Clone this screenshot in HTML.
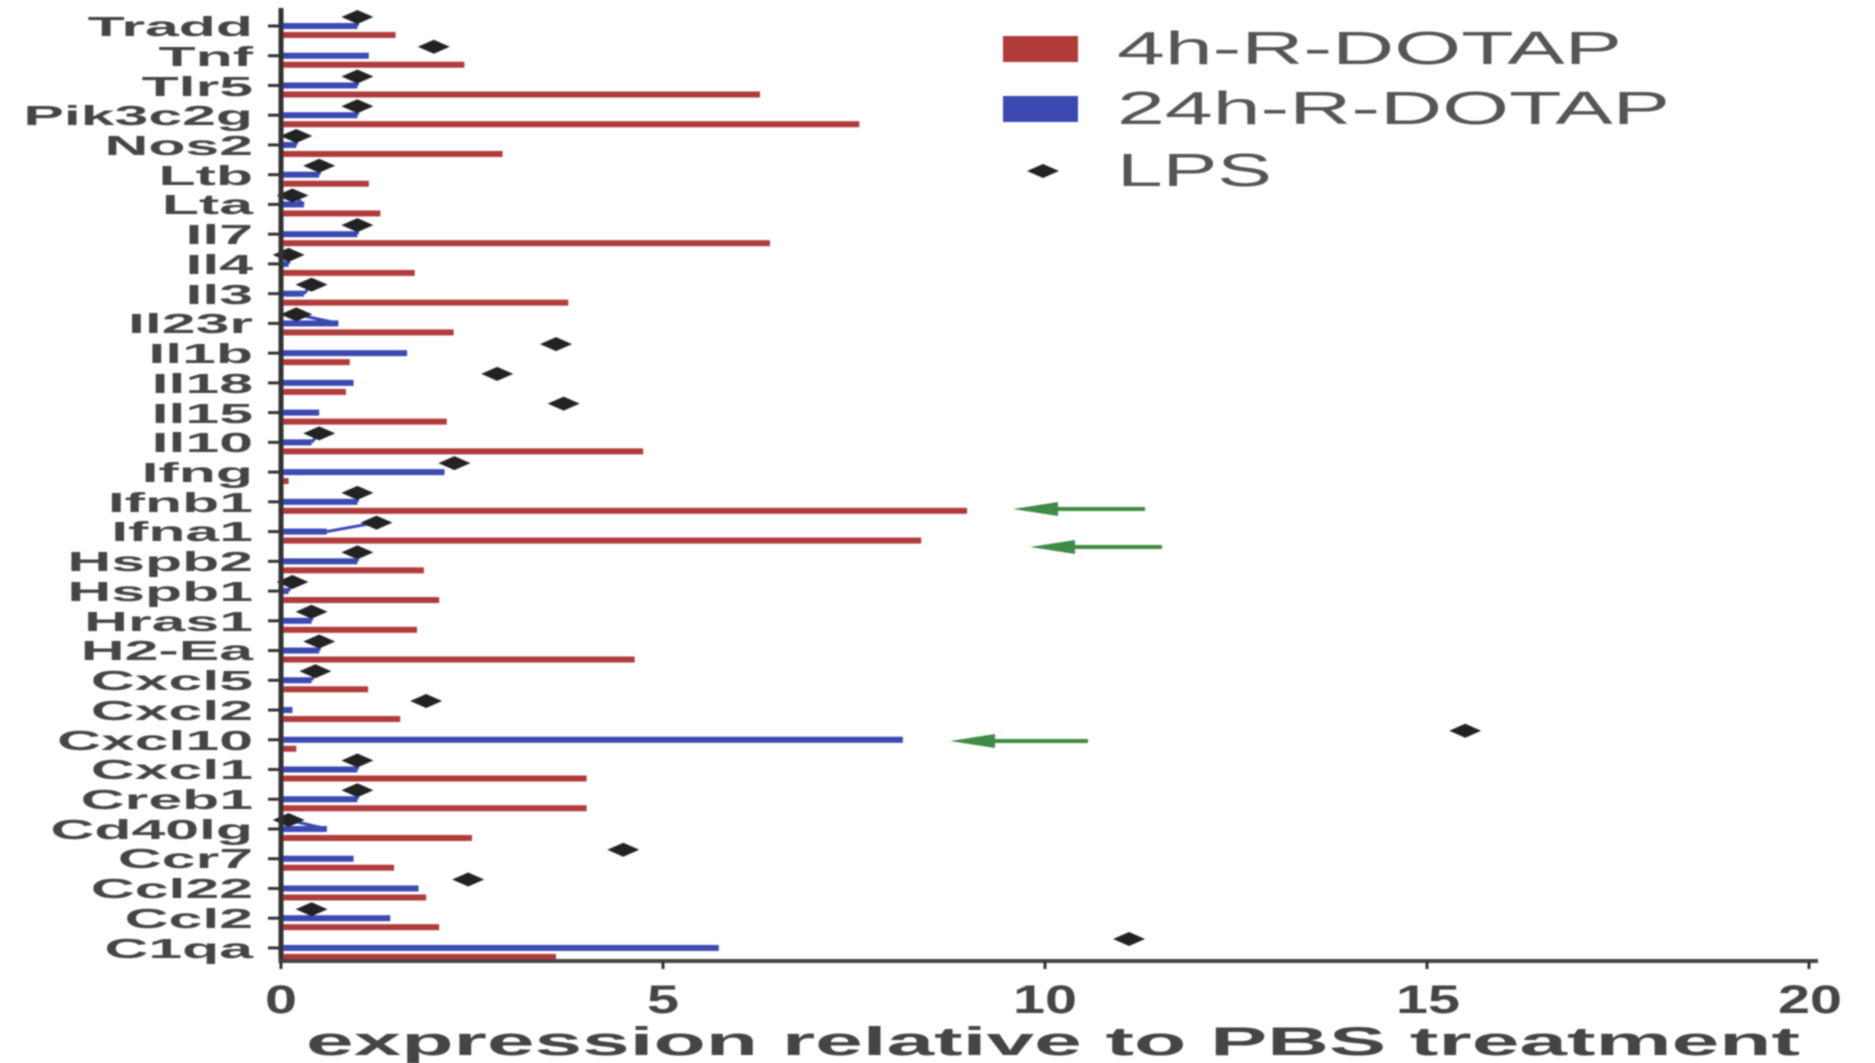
<!DOCTYPE html>
<html><head><meta charset="utf-8"><style>
html,body{margin:0;padding:0;background:#fff;}
svg{display:block;}
</style></head><body>
<svg id="s" width="1875" height="1063" viewBox="0 0 1875 1063" xmlns="http://www.w3.org/2000/svg">
<defs><filter id="bl"><feGaussianBlur stdDeviation="0.8"/></filter></defs>
<g filter="url(#bl)">
<g id="bars"></g>
<line x1="281" y1="8" x2="281" y2="963" stroke="#333" stroke-width="5"/>
<line x1="279" y1="961" x2="1818" y2="961" stroke="#444" stroke-width="4"/>
<g id="ticks" stroke="#333" stroke-width="3"></g>
<g font-family="Liberation Sans, sans-serif" font-weight="bold" font-size="28" fill="#444" transform="translate(253,0) scale(2.17,1)" text-anchor="end">
<text x="0" y="36">Tradd</text>
<text x="0" y="66">Tnf</text>
<text x="0" y="96">Tlr5</text>
<text x="0" y="125">Pik3c2g</text>
<text x="0" y="155">Nos2</text>
<text x="0" y="185">Ltb</text>
<text x="0" y="214">Lta</text>
<text x="0" y="244">Il7</text>
<text x="0" y="274">Il4</text>
<text x="0" y="304">Il3</text>
<text x="0" y="333">Il23r</text>
<text x="0" y="363">Il1b</text>
<text x="0" y="393">Il18</text>
<text x="0" y="423">Il15</text>
<text x="0" y="452">Il10</text>
<text x="0" y="482">Ifng</text>
<text x="0" y="512">Ifnb1</text>
<text x="0" y="541">Ifna1</text>
<text x="0" y="571">Hspb2</text>
<text x="0" y="601">Hspb1</text>
<text x="0" y="631">Hras1</text>
<text x="0" y="660">H2-Ea</text>
<text x="0" y="690">Cxcl5</text>
<text x="0" y="720">Cxcl2</text>
<text x="0" y="750">Cxcl10</text>
<text x="0" y="779">Cxcl1</text>
<text x="0" y="809">Creb1</text>
<text x="0" y="839">Cd40lg</text>
<text x="0" y="868">Ccr7</text>
<text x="0" y="898">Ccl22</text>
<text x="0" y="928">Ccl2</text>
<text x="0" y="958">C1qa</text>
</g>
<g font-family="Liberation Sans, sans-serif" font-weight="bold" font-size="40" fill="#444" text-anchor="middle">
<text x="281" y="1013" textLength="32" lengthAdjust="spacingAndGlyphs">0</text>
<text x="663" y="1013" textLength="32" lengthAdjust="spacingAndGlyphs">5</text>
<text x="1045" y="1013" textLength="64" lengthAdjust="spacingAndGlyphs">10</text>
<text x="1428" y="1013" textLength="64" lengthAdjust="spacingAndGlyphs">15</text>
<text x="1810" y="1013" textLength="64" lengthAdjust="spacingAndGlyphs">20</text>
<text x="1053" y="1055" textLength="1494" lengthAdjust="spacingAndGlyphs">expression relative to PBS treatment</text>
</g>
<rect x="1003" y="36" width="75" height="26" fill="#b03a3a"/>
<rect x="1003" y="96" width="75" height="26" fill="#3a48b0"/>
<polygon points="1027,171 1043,164 1059,171 1043,178" fill="#222"/>
<g font-family="Liberation Sans, sans-serif" font-size="46" fill="#555">
<text x="1117" y="64" textLength="505" lengthAdjust="spacingAndGlyphs">4h-R-DOTAP</text>
<text x="1117" y="124" textLength="553" lengthAdjust="spacingAndGlyphs">24h-R-DOTAP</text>
<text x="1117" y="186" textLength="155" lengthAdjust="spacingAndGlyphs">LPS</text>
</g>
<g id="arrows" fill="#3f8a45" stroke="#3f8a45"></g>
</g>
</svg>
<script>
var d=[[1,1.5,1],[1.15,2.4,2],[1,6.27,1],[1,7.57,1],[0.2,2.9,0.2],[0.5,1.15,0.5],[0.3,1.3,0.15],[1,6.4,1],[0.1,1.75,0.1],[0.3,3.76,0.4],[0.75,2.26,0.2],[1.65,0.9,3.6],[0.95,0.85,2.83],[0.5,2.17,3.7],[0.4,4.74,0.5],[2.14,0.1,2.27],[1,8.98,1],[0.6,8.38,1.25],[1,1.87,1],[0.1,2.07,0.15],[0.4,1.78,0.4],[0.5,4.63,0.5],[0.4,1.14,0.45],[0.15,1.56,1.9],[8.14,0.2,15.5],[1,4,1],[1,4,1],[0.6,2.5,0.1],[0.95,1.48,4.48],[1.8,1.9,2.45],[1.43,2.07,0.4],[5.73,3.6,11.1]];
var NS="http://www.w3.org/2000/svg",g=document.getElementById('bars'),t=document.getElementById('ticks');
function el(p,tag,a){var e=document.createElementNS(NS,tag);for(var k in a)e.setAttribute(k,a[k]);p.appendChild(e);return e;}
var X=function(v){return 281+76.4*v;};
d.forEach(function(r,i){var y=26+29.74*i;
el(g,'rect',{x:281,y:y-3,width:76.4*r[0],height:6,fill:'#3a48b0'});
el(g,'rect',{x:281,y:y+6,width:76.4*r[1],height:6,fill:'#b03a3a'});
if(r[2]<1.3&&r[0]<1.3){el(g,'line',{x1:X(r[0]),y1:y,x2:X(r[2]),y2:y-9,stroke:'#3a48b0','stroke-width':3});}
var cx=X(r[2]),cy=y-9;
el(g,'polygon',{points:(cx-16)+','+cy+' '+cx+','+(cy-7)+' '+(cx+16)+','+cy+' '+cx+','+(cy+7),fill:'#222'});
el(t,'line',{x1:268,y1:y,x2:281,y2:y});
});
[0,5,10,15,20].forEach(function(v){el(t,'line',{x1:X(v),y1:961,x2:X(v),y2:969});});
var a=document.getElementById('arrows');
[[1013,1145,509],[1030,1162,547],[950,1088,741]].forEach(function(q){
el(a,'line',{x1:q[0]+20,y1:q[2],x2:q[1],y2:q[2],'stroke-width':4});
el(a,'polygon',{points:q[0]+','+q[2]+' '+(q[0]+45)+','+(q[2]-7)+' '+(q[0]+45)+','+(q[2]+7),stroke:'none'});
});
</script>
</body></html>
